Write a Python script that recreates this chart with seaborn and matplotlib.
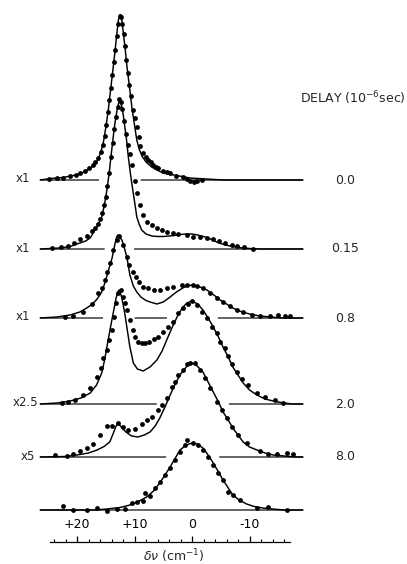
import numpy as np
import matplotlib
matplotlib.use("Agg")
import matplotlib.pyplot as plt
import seaborn as sns

# ---------------- data (delta-nu in cm^-1, signal in arbitrary units) ----------------
DELAY_LABELS = ["0.0", "0.15", "0.8", "2.0", "8.0"]
SCALE_LABELS = ["x1", "x1", "x1", "x2.5", "x5"]
TICK_VALUES = [20, 10, 0, -10]
TICK_LABELS = ["+20", "+10", "0", "-10"]

FIT1_X = [26.4, 24.5, 22.5, 21.0, 19.5, 18.5, 17.7, 17.0, 16.3, 15.8, 15.4, 15.0, 14.6, 14.3, 14.0, 13.7, 13.4, 13.1, 12.8, 12.5,
          12.2, 11.9, 11.6, 11.3, 11.0, 10.7, 10.4, 10.0, 9.6, 9.2, 8.7, 8.0, 7.0, 6.1, 5.0, 3.2, 0.3, -2.5, -5.5, -19.3]
FIT1_Y = [0, 1.5, 2.5, 4, 6, 9, 12, 15, 21, 29, 38, 52, 68, 83, 98, 113, 128, 145, 160, 165,
          160, 145, 130, 113, 99, 85, 70, 55, 40, 31, 24, 18, 13, 10, 7, 5, 2, 1, 0, 0]
DATA1_X = [24.8, 23.5, 22.4, 21.2, 20.2, 19.4, 18.6, 17.9, 17.3, 16.8, 16.3, 15.9, 15.5, 15.2, 14.9, 14.6, 14.35, 14.1, 13.85, 13.6,
           13.35, 13.1, 12.85, 12.6, 12.4, 12.15, 11.9, 11.65, 11.4, 11.15, 10.9, 10.6, 10.2, 9.9, 9.6, 9.3, 9.0, 8.5, 8.0, 7.6,
           7.1, 6.7, 6.2, 5.9, 5.0, 4.4, 3.8, 2.7, 1.5, 0.8, 0.3, -0.3, -0.8, -1.7]
DATA1_Y = [1, 2, 2, 4, 5, 7, 9, 12, 15, 18, 22, 28, 35, 44, 55, 68, 80, 92, 105, 118,
           130, 144, 156, 164, 163, 156, 146, 134, 120, 107, 95, 84, 70, 62, 53, 43, 34, 27, 23, 20,
           18, 15, 13, 12, 9, 8, 7, 4, 3, 1, -1, -2, -1, 0]

FIT2_X = [26.4, 23.0, 21.2, 19.5, 18.5, 17.7, 16.9, 16.3, 15.7, 15.2, 14.8, 14.4, 14.1, 13.7, 13.4, 13.0, 12.64, 12.3, 12.0, 11.77,
          11.4, 11.07, 10.7, 10.3, 9.9, 9.6, 9.2, 8.75, 8.0, 7.0, 6.0, 5.0, 4.0, 3.0, 2.0, 1.0, 0.0, -1.0, -2.0, -3.0,
          -4.3, -5.5, -7.0, -8.5, -10.0, -12.0, -19.3]
FIT2_Y = [0, 1, 2.5, 6, 8, 11, 19, 25, 32, 45, 59, 76, 92, 112, 126, 140, 149, 145, 136, 126,
          110, 92, 75, 59, 44, 32, 25, 19, 15, 13, 12.5, 12.5, 13, 13.5, 14.5, 15, 15, 14, 12.5, 10.5,
          7, 4.5, 2.5, 1.2, 0.5, 0, 0]
DATA2_X = [24.3, 22.8, 21.5, 20.5, 19.5, 18.3, 17.4, 16.9, 16.4, 16.0, 15.6, 15.3, 15.0, 14.7, 14.4, 14.1, 13.8, 13.5, 13.2, 12.9,
           12.64, 12.4, 12.1, 11.8, 11.5, 11.2, 10.85, 10.5, 9.9, 9.6, 9.04, 8.6, 7.9, 7.0, 6.1, 5.3, 4.3, 3.3, 2.4, 0.9,
           -0.2, -1.4, -2.6, -3.7, -4.7, -5.8, -6.9, -7.9, -9.0, -10.6]
DATA2_Y = [1, 2, 3, 6, 10, 13, 18, 21, 25, 30, 36, 44, 52, 63, 76, 92, 106, 120, 132, 142,
           150, 147, 140, 128, 115, 104, 95, 84, 68, 56, 44, 34, 27, 24, 21, 19, 17, 16, 15, 14,
           12, 12, 11, 10, 8, 6, 4, 3, 2, 0]

FIT3_X = [26.4, 23.5, 21.2, 19.5, 18.3, 17.3, 16.5, 15.7, 15.1, 14.5, 13.9, 13.4, 13.1, 12.9, 12.6, 12.2, 11.8, 11.3, 10.8, 10.2,
          9.6, 8.9, 8.0, 7.3, 6.1, 5.0, 3.8, 2.7, 1.6, 0.6, -0.2, -1.4, -2.6, -3.8, -4.9, -6.0, -7.1, -8.5, -10.0, -11.8,
          -13.6, -16.0, -19.3]
FIT3_Y = [0, 1, 3, 6, 10, 14, 19, 26, 36, 48, 60, 74, 81, 83, 81, 78, 71, 60, 43, 32,
          26, 21, 17.5, 16, 14, 16, 21, 26, 30, 32.5, 33, 31, 28, 23, 18, 14, 10, 6.5, 4, 2,
          1, 0, 0]
DATA3_X = [22.1, 20.7, 19.0, 17.4, 16.3, 15.7, 15.1, 14.8, 14.3, 13.7, 13.0, 12.7, 12.0, 11.3, 11.0, 10.3, 9.7, 9.2, 8.5, 7.7,
           6.6, 5.6, 4.3, 3.3, 1.7, 0.9, -0.2, -0.9, -1.9, -3.1, -4.3, -5.4, -6.6, -7.8, -8.9, -10.4, -11.8, -13.6, -15.0, -16.2,
           -17.0]
DATA3_Y = [1, 2, 6, 14, 25, 30, 38, 46, 55, 68, 78, 82, 73, 61, 53, 46, 41, 36, 31, 30,
           28, 28, 30, 31, 33, 33, 33, 32, 30, 25, 20, 16, 12, 8, 6, 3, 2, 2, 3, 2,
           2]

FIT4_X = [26.4, 23.5, 21.2, 19.3, 17.7, 16.6, 15.7, 15.2, 14.8, 14.2, 13.7, 13.2, 12.95, 12.7, 12.45, 12.2, 11.7, 11.2, 10.8, 10.2,
          9.5, 8.5, 7.3, 6.1, 5.2, 4.4, 3.5, 2.6, 1.7, 0.9, 0.0, -1.0, -1.9, -2.8, -3.7, -4.6, -5.4, -6.3, -7.1, -8.0,
          -8.9, -10.0, -11.3, -12.7, -14.1, -16.0, -17.5, -19.3]
FIT4_Y = [0, 1, 3, 6, 11, 19, 31, 44, 57, 76, 91, 106, 111, 114, 111, 106, 91, 72, 57, 41,
          35, 33, 37, 44, 53, 64, 76, 87, 96, 101, 103, 100, 94, 86, 77, 67, 57, 47, 37, 29,
          21, 14, 9, 5, 3, 1, 0, 0]
DATA4_X = [22.6, 21.6, 20.3, 19.0, 17.7, 16.5, 15.8, 15.5, 14.8, 14.4, 13.9, 13.6, 13.2, 12.9, 12.3, 12.0, 11.7, 11.3, 10.8, 10.3,
           9.9, 9.4, 8.7, 8.2, 7.5, 6.6, 5.9, 5.0, 4.2, 3.3, 2.4, 1.6, 0.7, 0.0, -0.9, -1.7, -2.6, -3.5, -4.3, -4.9,
           -5.7, -6.3, -7.0, -7.8, -8.7, -9.7, -11.3, -12.7, -14.4, -15.8]
DATA4_Y = [1, 2, 4, 9, 16, 27, 36, 46, 54, 64, 74, 87, 101, 111, 114, 107, 101, 94, 84, 74,
           67, 62, 61, 61, 62, 65, 67, 72, 77, 82, 91, 96, 100, 103, 99, 92, 86, 77, 71, 62,
           56, 48, 40, 32, 25, 19, 11, 7, 4, 1]

FIT5_X = [26.4, 22.0, 20.0, 18.0, 16.5, 15.3, 14.3, 13.6, 13.2, 12.9, 12.6, 12.3, 11.5, 10.5, 9.4, 8.3, 7.3, 6.4, 5.6, 4.7,
          3.8, 3.0, 2.1, 1.0, 0.0, -0.9, -1.9, -2.8, -3.7, -4.6, -5.4, -6.3, -7.1, -8.0, -8.9, -10.0, -11.3, -12.7, -14.1, -16.0,
          -18.0, -19.3]
FIT5_Y = [0, 0.5, 2, 4, 7, 10.5, 15, 25, 31, 33, 32, 30, 25, 21, 20, 22, 25, 31, 39, 50,
          62, 72, 82, 90, 94, 91, 85, 75, 65, 55, 45, 37, 29, 22, 15, 10, 7, 4, 2, 1,
          0, 0]
DATA5_X = [23.8, 21.7, 20.7, 19.5, 18.3, 17.2, 16.0, 14.8, 13.9, 12.9, 12.0, 11.1, 9.9, 8.7, 7.8, 7.0, 5.9, 5.2, 4.3, 3.5,
           3.0, 2.4, 1.6, 0.9, 0.3, -0.5, -1.4, -2.3, -3.1, -4.3, -5.2, -6.1, -7.0, -8.0, -9.6, -11.8, -13.2, -14.8, -16.5, -17.6]
DATA5_Y = [2, 1, 3, 6, 9, 13, 22, 31, 31, 34, 30, 27, 28, 33, 37, 40, 47, 52, 59, 70,
           75, 82, 87, 93, 94, 94, 87, 79, 69, 55, 47, 39, 30, 22, 14, 6, 3, 3, 4, 3]

FIT6_X = [26.4, 17.0, 14.8, 12.5, 10.8, 9.3, 7.9, 6.7, 5.6, 4.7, 3.8, 3.0, 2.1, 1.0, 0.0, -0.9, -1.9, -2.8, -3.7, -4.6,
          -5.4, -6.3, -7.1, -8.2, -9.5, -10.8, -12.3, -14.0, -16.0, -19.3]
FIT6_Y = [0, 0, 1, 2.5, 5, 8.5, 13, 19, 27, 35, 43, 51, 60, 65, 67, 66, 62, 55, 47, 38,
          30, 22, 15, 10, 6, 3.5, 2, 1, 0, 0]
DATA6_X = [22.4, 20.7, 18.3, 16.5, 14.8, 13.0, 11.7, 10.4, 9.6, 8.5, 8.2, 7.3, 6.4, 5.6, 4.7, 3.8, 3.0, 2.1, 1.2, 0.9,
           -0.2, -1.0, -1.9, -2.8, -3.7, -4.5, -5.4, -6.3, -7.1, -8.3, -11.3, -13.2, -16.5]
DATA6_Y = [4, 0, 0, 2, -1, 1, 1, 7, 8, 9, 17, 14, 22, 28, 35, 42, 50, 58, 65, 70,
           67, 65, 60, 53, 45, 37, 30, 18, 15, 10, 2, 3, 0]

FITS = [(FIT1_X, FIT1_Y), (FIT2_X, FIT2_Y), (FIT3_X, FIT3_Y), (FIT4_X, FIT4_Y), (FIT5_X, FIT5_Y), (FIT6_X, FIT6_Y)]
DATAS = [(DATA1_X, DATA1_Y), (DATA2_X, DATA2_Y), (DATA3_X, DATA3_Y), (DATA4_X, DATA4_Y), (DATA5_X, DATA5_Y), (DATA6_X, DATA6_Y)]

# ---------------- layout ----------------
W, H = 407, 564
OFFSETS = [384, 315, 246, 160, 107, 54]      # vertical stacking offsets
BASE_RANGE = (26.4, -19.3)                    # baseline extent (cm^-1)

sns.set_theme(style="white")
plt.rcParams["font.family"] = ["DejaVu Sans"]

fig = plt.figure(figsize=(W / 100, H / 100), dpi=100)
fig.patch.set_facecolor("white")
ax = fig.add_axes([0, 0, 1, 1])
ax.set_xlim(33.39, -37.39)
ax.set_ylim(0, H)
ax.set_axis_off()

# baselines, interrupted where the spectrum below crosses them
grid = np.linspace(BASE_RANGE[1], BASE_RANGE[0], 2400)
step = grid[1] - grid[0]
pad = int(1.6 / step)
for k, off in enumerate(OFFSETS):
    yb = np.full(grid.shape, float(off))
    if k < len(OFFSETS) - 1:
        lx, ly = FITS[k + 1]
        top = OFFSETS[k + 1] + np.interp(grid, np.array(lx)[::-1], np.array(ly)[::-1])
        hit = (top > off - 1).astype(float)
        hit = np.convolve(hit, np.ones(2 * pad + 1), mode="same") > 0
        yb[hit] = np.nan
    ax.plot(grid, yb, color="black", lw=0.85, zorder=2, solid_capstyle="butt")

for (fx, fy), (dx, dy), off in zip(FITS, DATAS, OFFSETS):
    sns.lineplot(x=np.array(fx), y=np.array(fy) + off, ax=ax, color="black", linewidth=1.05,
                 estimator=None, sort=False, zorder=3)
    sns.scatterplot(x=np.array(dx), y=np.array(dy) + off, ax=ax, color="black", s=12,
                    marker="o", linewidth=0, zorder=4)

# labels
def ftext(px, py, s, **kw):
    fig.text(px / W, 1 - py / H, s, **kw)

for lab, (px, py) in zip(SCALE_LABELS, [(23, 179), (23, 248), (23, 317), (25, 403), (28, 456)]):
    ftext(px, py, lab, ha="center", va="center", fontsize=8.5)
for lab, py in zip(DELAY_LABELS, [180, 249, 318, 404, 457]):
    ftext(345, py, lab, ha="center", va="center", fontsize=9)
ftext(353, 98, r"DELAY (10$^{-6}$sec)", ha="center", va="center", fontsize=9)
ftext(174, 556, r"$\delta\nu$ (cm$^{-1}$)", ha="center", va="center", fontsize=9)

# frequency axis
ax2 = fig.add_axes([50 / W, 22.3 / H, 240 / W, 0.0001])
ax2.set_xlim(24.7, -17.0)
ax2.set_ylim(0, 1)
for side in ["left", "right", "bottom"]:
    ax2.spines[side].set_visible(False)
ax2.spines["top"].set_visible(True)
ax2.spines["top"].set_color("black")
ax2.spines["top"].set_linewidth(0.9)
ax2.patch.set_alpha(0)
ax2.xaxis.tick_top()
ax2.set_yticks([])
ax2.set_xticks(TICK_VALUES)
ax2.set_xticklabels(TICK_LABELS)
ax2.set_xticks(list(range(24, -17, -2)), minor=True)
ax2.tick_params(axis="x", which="major", direction="out", length=4, width=0.9, pad=4,
                labelsize=9, colors="black", top=True, bottom=False)
ax2.tick_params(axis="x", which="minor", direction="out", length=2.2, width=0.8,
                top=True, bottom=False, colors="black")

fig.savefig("out.png", dpi=100, facecolor="white")
